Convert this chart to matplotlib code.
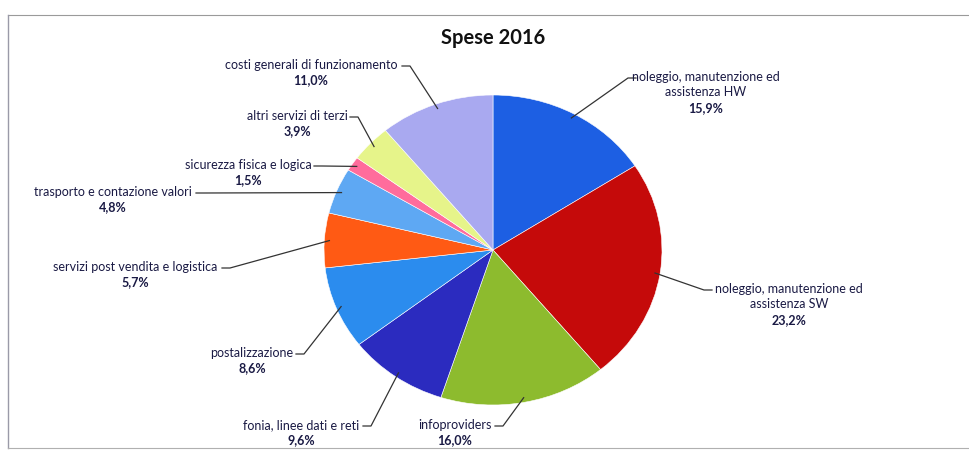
import numpy as np
import matplotlib
matplotlib.use("Agg")
import matplotlib.pyplot as plt

# dati del grafico (percentuali)
categorie = [
    "noleggio, manutenzione ed\nassistenza HW",
    "noleggio, manutenzione ed\nassistenza SW",
    "infoproviders",
    "fonia, linee dati e reti",
    "postalizzazione",
    "servizi post vendita e logistica",
    "trasporto e contazione valori",
    "sicurezza fisica e logica",
    "altri servizi di terzi",
    "costi generali di funzionamento",
]
valori = [15.9, 23.2, 16.0, 9.6, 8.6, 5.7, 4.8, 1.5, 3.9, 11.0]
colori = ["#1d5fe3", "#c50a0a", "#8dbb2e", "#2b2bbf", "#2b8cee",
          "#ff5a14", "#5ea8f3", "#ff6c9c", "#e6f48a", "#a9a9f0"]

# posizione etichette in pixel: (x testo, y prima riga, x inizio linea)
etichette_pos = [
    (706, 77, 636),
    (789, 289, 712),
    (455, 425, 495),
    (301, 425, 363),
    (252, 353, 296),
    (135, 267, 222),
    (113, 192, 196),
    (248, 165, 314),
    (297, 116, 350),
    (311, 65, 402),
]

W, H = 969, 450
fig = plt.figure(figsize=(W / 100, H / 100), dpi=100)

# pie: centro (493, 250), raggi 169 x 155 px
cx, cy, rx, ry = 493, 250, 169, 155
ax = fig.add_axes([(cx - rx) / W, (H - cy - ry) / H, 2 * rx / W, 2 * ry / H])
wedges, _ = ax.pie(valori, colors=colori, startangle=90, counterclock=False,
                   wedgeprops=dict(edgecolor="white", linewidth=0.4))
ax.set_aspect("auto")
ax.set_xlim(-1, 1)
ax.set_ylim(-1, 1)
ax.axis("off")

# overlay in coordinate pixel per testi e linee guida
ov = fig.add_axes([0, 0, 1, 1], zorder=5)
ov.set_xlim(0, W)
ov.set_ylim(H, 0)
ov.axis("off")
ov.patch.set_alpha(0)

font = ["Lato", "DejaVu Sans"]
testo_col = "#1a1a44"

ov.text(493, 38, "Spese 2016", ha="center", va="center", fontsize=14.5,
        fontweight="bold", color="#111111", family=font)

to_px = ov.transData.inverted()
for w, cat, val, (tx, ty, sx) in zip(wedges, categorie, valori, etichette_pos):
    ang = np.deg2rad((w.theta1 + w.theta2) / 2)
    pt = ax.transData.transform((0.97 * np.cos(ang), 0.97 * np.sin(ang)))
    px, py = to_px.transform(pt)
    stub = sx + (8 if px > sx else -8)
    ov.plot([sx, stub, px], [ty + 1, ty + 1, py], color="#333333", lw=0.9)
    righe = cat.split("\n") + [f"{val:.1f}%".replace(".", ",")]
    for i, r in enumerate(righe):
        ov.text(tx, ty + i * 15.5, r, ha="center", va="center", fontsize=9,
                color=testo_col, family=font,
                fontweight="bold" if i == len(righe) - 1 else "normal")

# cornice leggera del grafico
ov.plot([8, W], [15, 15], color="#9a9a9a", lw=0.8)
ov.plot([8, 8], [15, 448], color="#9a9aa8", lw=1.0)
ov.plot([8, W], [448, 448], color="#b0b0b0", lw=0.8)

fig.savefig("out.png", dpi=100)
